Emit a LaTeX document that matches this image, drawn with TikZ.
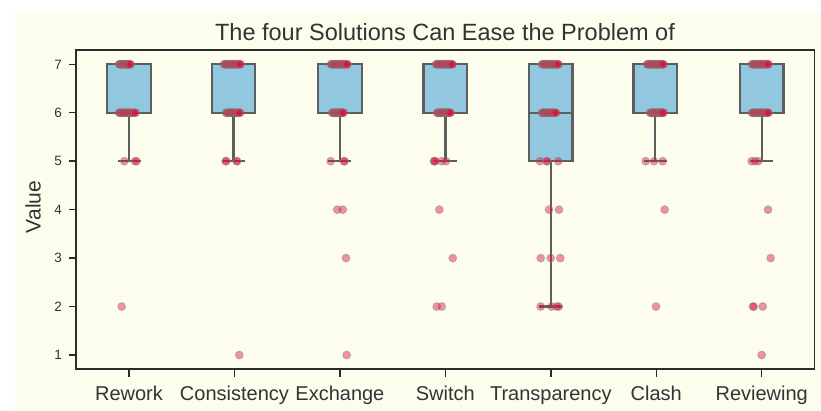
\documentclass[tikz,border=0pt]{standalone}
\usepackage{fontspec}
\setmainfont{Liberation Sans}
\definecolor{cream}{HTML}{FDFDEE}
\definecolor{boxblue}{HTML}{92C8DF}
\definecolor{boxline}{HTML}{5E5E5E}
\definecolor{dotred}{HTML}{DC143C}
\definecolor{axcol}{HTML}{2B2B2B}
\definecolor{txt}{HTML}{333333}
\newcommand{\dotat}[2]{\filldraw[dotst] (#1,{64.3+(7-#2)*48.45}) circle[radius=4];}
\newcommand{\dotclus}[2]{\dotat{#1}{#2}\dotat{#1+0.8}{#2}\dotat{#1+1.6}{#2}}
\newcommand{\boxat}[1]{%
  \filldraw[boxst] (#1-21.8,{64.3}) rectangle (#1+21.8,{112.75});
  \draw[boxst] (#1,112.75) -- (#1,161.2);
  \draw[boxst] (#1-11.5,161.2) -- (#1+11.5,161.2);}
\begin{document}
\begin{tikzpicture}[x=1pt,y=-1pt,
  boxst/.style={draw=boxline,fill=boxblue,line width=2.3pt},
  dotst/.style={fill=dotred,draw=gray,line width=0.8pt,opacity=0.45},
  ticklab/.style={font=\fontsize{13.5}{14}\selectfont,text=txt,inner sep=0pt},
  catlab/.style={font=\fontsize{20}{22}\selectfont,text=txt,inner sep=0pt,anchor=base},
  axline/.style={draw=axcol,line width=1.4pt}]
\useasboundingbox (0,0) rectangle (821,411);
\fill[white] (0,0) rectangle (821,411);
\fill[cream] (15,13) rectangle (821,411);
% boxes
\boxat{129}
\boxat{233.45}
\boxat{339.9}
\boxat{445.35}
\boxat{655.25}
\boxat{761.7}
% transparency
\filldraw[boxst] (550.8-21.8,64.3) rectangle (550.8+21.8,161.2);
\draw[boxst] (550.8-21.8,112.75) -- (550.8+21.8,112.75);
\draw[boxst] (550.8,161.2) -- (550.8,306.55);
\draw[boxst] (550.8-11.5,306.55) -- (550.8+11.5,306.55);
% Rework
\foreach \x in {119,121,...,130} {\dotclus{\x}{7}}
\foreach \x in {119,122,...,135} {\dotclus{\x}{6}}
\dotat{124.3}{5}\dotat{135}{5}\dotat{136.5}{5}\dotat{121.7}{2}
% Consistency
\foreach \x in {224,226.5,...,240} {\dotclus{\x}{7}}
\foreach \x in {226,228.5,...,240} {\dotclus{\x}{6}}
\dotat{225.7}{5}\dotat{226.2}{5}\dotat{236.7}{5}\dotat{237}{5}\dotat{239.3}{1}
% Exchange
\foreach \x in {331,333.5,...,347} {\dotclus{\x}{7}}
\foreach \x in {332,334,...,342} {\dotclus{\x}{6}}
\dotat{330.7}{5}\dotat{344}{5}\dotat{344.5}{5}\dotat{337.3}{4}\dotat{342.7}{4}\dotat{346}{3}\dotat{346.7}{1}
% Switch
\foreach \x in {436,438.5,...,452} {\dotclus{\x}{7}}
\foreach \x in {437,439,...,450} {\dotclus{\x}{6}}
\dotat{434}{5}\dotat{434.6}{5}\dotat{435}{5}\dotat{441.7}{5}\dotat{446}{5}
\dotat{439.3}{4}\dotat{452.7}{3}\dotat{436.7}{2}\dotat{441.7}{2}
% Transparency
\foreach \x in {542,544.5,...,557} {\dotclus{\x}{7}}
\foreach \x in {542,544.5,...,555} {\dotclus{\x}{6}}
\dotat{540}{5}\dotat{546.7}{5}\dotat{547.2}{5}\dotat{558.3}{5}
\dotat{549}{4}\dotat{559}{4}\dotat{540.7}{3}\dotat{550.7}{3}\dotat{560.3}{3}
\dotat{540.7}{2}\dotat{551.7}{2}\dotat{556.7}{2}\dotat{558.7}{2}
% Clash
\foreach \x in {647,649.5,...,662} {\dotclus{\x}{7}}
\foreach \x in {650,652,...,662} {\dotclus{\x}{6}}
\dotat{645.7}{5}\dotat{654}{5}\dotat{662.7}{5}\dotat{664.7}{4}\dotat{656}{2}
% Reviewing
\foreach \x in {752,754.5,...,767} {\dotclus{\x}{7}}
\foreach \x in {752,754.5,...,767} {\dotclus{\x}{6}}
\dotat{751.7}{5}\dotat{755}{5}\dotat{758.3}{5}\dotat{768}{4}\dotat{770.7}{3}
\dotat{753}{2}\dotat{753.6}{2}\dotat{762.7}{2}\dotat{761.7}{1}
% axes frame
\draw[axline] (76,50) rectangle (814.5,369);
% y ticks
\foreach \v in {1,...,7} {
  \draw[axline] (69,{64.3+(7-\v)*48.45}) -- (76,{64.3+(7-\v)*48.45});
  \node[ticklab,anchor=base east] (yt\v) at (62,{64.3+(7-\v)*48.45+4.8}) {\v};
}
% x ticks and labels
\foreach \i/\lab in {0/Rework,1/Consistency,2/Exchange,3/Switch,4/Transparency,5/Clash,6/Reviewing} {
  \draw[axline] ({129+\i*105.45},369) -- ({129+\i*105.45},377);
  \node[catlab] (xl\i) at ({129+\i*105.45},400) {\lab};
}
\node[font=\fontsize{21}{23}\selectfont,text=txt,rotate=90,inner sep=0pt] (ylab) at (33,207) {Value};
\node[font=\fontsize{23.5}{26}\selectfont,text=txt,anchor=base,inner sep=0pt] (title) at (445,40.5) {The four Solutions Can Ease the Problem of};
\end{tikzpicture}
\end{document}
